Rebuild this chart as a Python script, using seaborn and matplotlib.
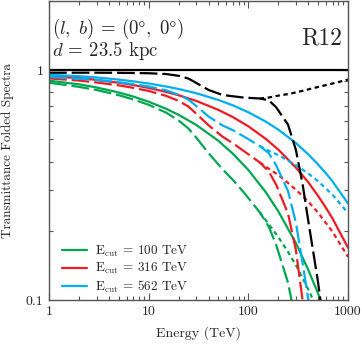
"""Transmittance-folded spectra for R12 at (l, b) = (0, 0), d = 23.5 kpc."""

import matplotlib

matplotlib.use("Agg")

import matplotlib.pyplot as plt  # noqa: E402
import seaborn as sns  # noqa: E402

sns.set_theme(style="ticks")
plt.rcParams["font.family"] = ["cmr10", "DejaVu Serif"]
plt.rcParams["mathtext.fontset"] = "cm"
plt.rcParams["axes.formatter.use_mathtext"] = True

# --- data ------------------------------------------------------------------
# transmittance (black): total (dashed) and without CMB (dotted)
energy_trans = [1, 2, 3, 5, 7, 10, 15, 20, 25, 30, 40, 55, 70, 90, 130, 160,
                190, 250, 300, 350, 400, 450, 500, 550]
trans_total = [0.975, 0.975, 0.975, 0.974, 0.972, 0.970, 0.962, 0.945, 0.92,
               0.88, 0.82, 0.78, 0.77, 0.76, 0.753, 0.74, 0.69, 0.58, 0.45,
               0.32, 0.22, 0.16, 0.12, 0.088]
energy_nocmb = [130, 160, 200, 250, 300, 400, 500, 700, 1000]
trans_nocmb = [0.753, 0.76, 0.775, 0.787, 0.80, 0.825, 0.845, 0.875, 0.91]

# intrinsic spectra (solid)
energy_solid = [1, 2, 3, 5, 7, 10, 15, 20, 30, 50, 70, 100, 150, 200, 300,
                400, 500, 600, 700, 1000]
green_solid = [0.90, 0.868, 0.841, 0.800, 0.768, 0.729, 0.679, 0.639, 0.578,
               0.493, 0.433, 0.368, 0.294, 0.243, 0.177, 0.135, 0.107, 0.086,
               0.071, 0.042]
red_solid = [0.942, 0.924, 0.907, 0.882, 0.862, 0.837, 0.804, 0.778, 0.735,
             0.672, 0.625, 0.570, 0.502, 0.451, 0.377, 0.325, 0.284, 0.252,
             0.226, 0.169]
blue_solid = [0.955, 0.942, 0.930, 0.910, 0.894, 0.875, 0.849, 0.828, 0.794,
              0.742, 0.703, 0.656, 0.597, 0.551, 0.482, 0.430, 0.389, 0.356,
              0.328, 0.263]

# folded with total transmittance (dashed)
energy_dashed = [1, 2, 3, 5, 7, 10, 15, 20, 25, 30, 40, 55, 70, 90, 130, 160,
                 190, 250, 300, 350, 400, 450]
green_dashed = [0.882, 0.846, 0.820, 0.779, 0.746, 0.707, 0.653, 0.604, 0.558,
                0.509, 0.435, 0.371, 0.333, 0.294, 0.241, 0.209, 0.174, 0.119,
                0.080, 0.05, 0.03, 0.02]
red_dashed = [0.921, 0.901, 0.884, 0.859, 0.838, 0.812, 0.773, 0.735, 0.695,
              0.647, 0.575, 0.514, 0.481, 0.445, 0.397, 0.363, 0.318, 0.238,
              0.165, 0.10, 0.066, 0.045]
blue_dashed = [0.935, 0.918, 0.907, 0.886, 0.869, 0.849, 0.817, 0.782, 0.745,
               0.699, 0.628, 0.575, 0.548, 0.515, 0.468, 0.436, 0.386, 0.298,
               0.217, 0.145, 0.10, 0.065]

# folded without CMB absorption (dotted)
energy_dotted = [130, 160, 200, 250, 300, 400, 500, 700, 1000]
green_dotted = [0.241, 0.214, 0.188, 0.162, 0.142, 0.111, 0.090, 0.062, 0.038]
red_dotted = [0.397, 0.373, 0.350, 0.323, 0.302, 0.268, 0.240, 0.198, 0.154]
blue_dotted = [0.468, 0.446, 0.427, 0.404, 0.386, 0.355, 0.329, 0.287, 0.239]

cut_labels = ["100", "316", "562"]
colors = ["#00a651", "#ed1c24", "#00aeef"]

DASHED = (0, (8, 2.2))
DOTTED = (0, (2.0, 1.6))
LW = 1.6

fig = plt.figure(figsize=(3.62, 3.47), dpi=100)
ax = fig.add_axes([49 / 362, 1 - 300 / 347, 299 / 362, 299 / 347])
ax.set_xscale("log")
ax.set_yscale("log")

solids = [green_solid, red_solid, blue_solid]
dasheds = [green_dashed, red_dashed, blue_dashed]
dotteds = [green_dotted, red_dotted, blue_dotted]

for solid, dashed, dotted, color, cut in zip(solids, dasheds, dotteds, colors, cut_labels):
    sns.lineplot(x=energy_dotted, y=dotted, ax=ax, color=color, lw=LW,
                 linestyle=DOTTED)
    sns.lineplot(x=energy_dashed, y=dashed, ax=ax, color=color, lw=LW,
                 linestyle=DASHED)
    sns.lineplot(x=energy_solid, y=solid, ax=ax, color=color, lw=LW,
                 label=r"E$_{\rm cut}$ = " + cut + " TeV")

sns.lineplot(x=energy_nocmb, y=trans_nocmb, ax=ax, color="black", lw=LW,
             linestyle=DOTTED)
sns.lineplot(x=energy_trans, y=trans_total, ax=ax, color="black", lw=LW,
             linestyle=DASHED)
ax.axhline(1.0, color="black", lw=LW)

ax.set_xlim(1, 1000)
ax.set_ylim(0.1, 2)
ax.set_xticks([1, 10, 100, 1000], ["1", "10", "100", "1000"])
ax.set_yticks([0.1, 1], ["0.1", "1"])
ax.tick_params(which="both", direction="in", top=True, right=True,
               color="#555555", labelsize=10, pad=4)
ax.tick_params(which="major", length=5, width=0.8)
ax.tick_params(which="minor", length=3, width=0.8)
for spine in ax.spines.values():
    spine.set_color("#555555")
    spine.set_linewidth(1.0)

ax.set_xlabel("Energy (TeV)", fontsize=10, labelpad=6)
ax.set_ylabel("Transmittance Folded Spectra", fontsize=9.5)
ax.yaxis.set_label_coords(-0.118, 0.5)

ax.text(0.01, 0.948,
        r"$(l,\ b)$ = $(0\degree,\ 0\degree)$" + "\n" + r"$d$ = 23.5 kpc",
        transform=ax.transAxes, fontsize=13.5, ha="left", va="top",
        linespacing=0.98)
ax.text(0.98, 0.853, "R12", transform=ax.transAxes, fontsize=17,
        ha="right", va="baseline")

handles, labels = ax.get_legend_handles_labels()
ax.legend(handles, labels, loc="lower left", frameon=False, fontsize=9.5,
          handlelength=1.9, handletextpad=0.6, labelspacing=0.15,
          borderaxespad=0.0, bbox_to_anchor=(0.025, 0.0))

fig.savefig("out.png", dpi=100)
plt.close(fig)
